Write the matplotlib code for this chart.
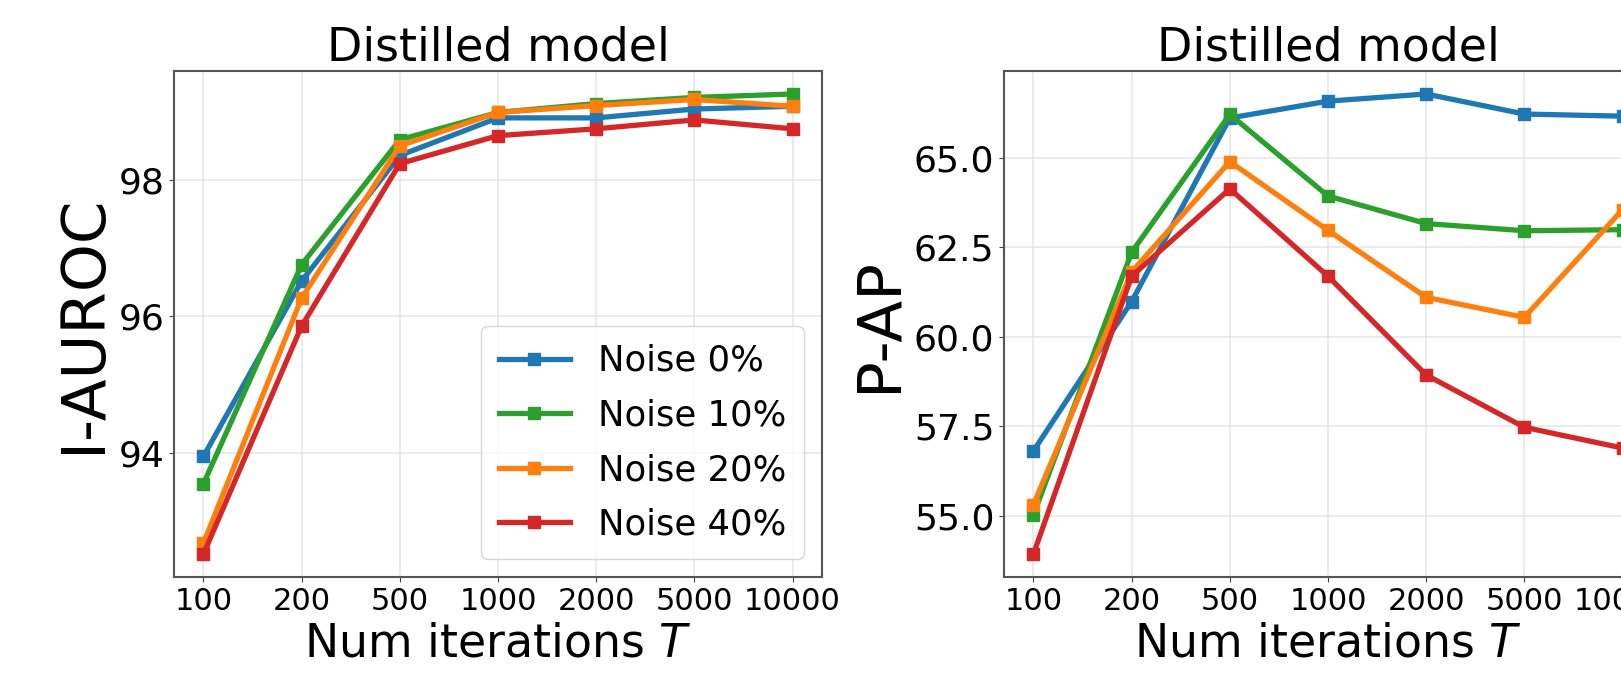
import numpy as np
import matplotlib
matplotlib.use("Agg")
import matplotlib.pyplot as plt

# iterations (categorical x axis)
iters = ["100", "200", "500", "1000", "2000", "5000", "10000"]
labels = ["Noise 0%", "Noise 10%", "Noise 20%", "Noise 40%"]
colors = ["#1f77b4", "#2ca02c", "#ff7f0e", "#d62728"]

# I-AUROC, distilled model
auroc_0 = [93.95, 96.52, 98.36, 98.91, 98.91, 99.04, 99.08]
auroc_10 = [93.55, 96.76, 98.59, 98.99, 99.12, 99.21, 99.26]
auroc_20 = [92.68, 96.27, 98.50, 98.99, 99.09, 99.18, 99.08]
auroc_40 = [92.52, 95.86, 98.24, 98.65, 98.75, 98.88, 98.75]

# P-AP, distilled model
pap_0 = [56.81, 60.98, 66.11, 66.58, 66.78, 66.22, 66.16]
pap_10 = [55.02, 62.36, 66.21, 63.93, 63.16, 62.96, 62.99]
pap_20 = [55.31, 61.81, 64.89, 62.97, 61.10, 60.54, 63.55]
pap_40 = [53.93, 61.69, 64.13, 61.69, 58.93, 57.47, 56.89]

W, H = 1621, 684
fig = plt.figure(figsize=(W / 100, H / 100), dpi=100)

# second panel runs past the right edge, like the reference crop
ax1 = fig.add_axes([174 / W, 107 / H, 648 / W, 506 / H])
ax2 = fig.add_axes([1004 / W, 107 / H, 648 / W, 506 / H])

x = np.arange(len(iters))

for ax, series, ylab in [
    (ax1, [auroc_0, auroc_10, auroc_20, auroc_40], "I-AUROC"),
    (ax2, [pap_0, pap_10, pap_20, pap_40], "P-AP"),
]:
    for vals, lab, c in zip(series, labels, colors):
        ax.plot(x, vals, marker="s", color=c, linewidth=3.8, markersize=8.5, label=lab)
    ax.set_xticks(x)
    ax.set_xticklabels(iters, fontsize=22)
    ax.tick_params(axis="y", labelsize=26)
    ax.tick_params(colors="#444444", labelcolor="black")
    ax.grid(True, color="#dddddd", linewidth=1.2, alpha=0.7)
    ax.set_axisbelow(True)
    for s in ax.spines.values():
        s.set_color("#555555")
        s.set_linewidth(1.5)
    ax.set_title("Distilled model", fontsize=33)
    ax.set_xlabel("Num iterations $T$", fontsize=33)
    ax.set_ylabel(ylab, fontsize=44)

ax1.set_yticks([94, 96, 98])
ax2.set_yticks([55.0, 57.5, 60.0, 62.5, 65.0])
ax2.set_yticklabels(["55.0", "57.5", "60.0", "62.5", "65.0"])

ax1.legend(loc="lower right", fontsize=25.5, handlelength=2.0,
           labelspacing=0.58, borderpad=0.5)

fig.savefig("out.png", dpi=100)
